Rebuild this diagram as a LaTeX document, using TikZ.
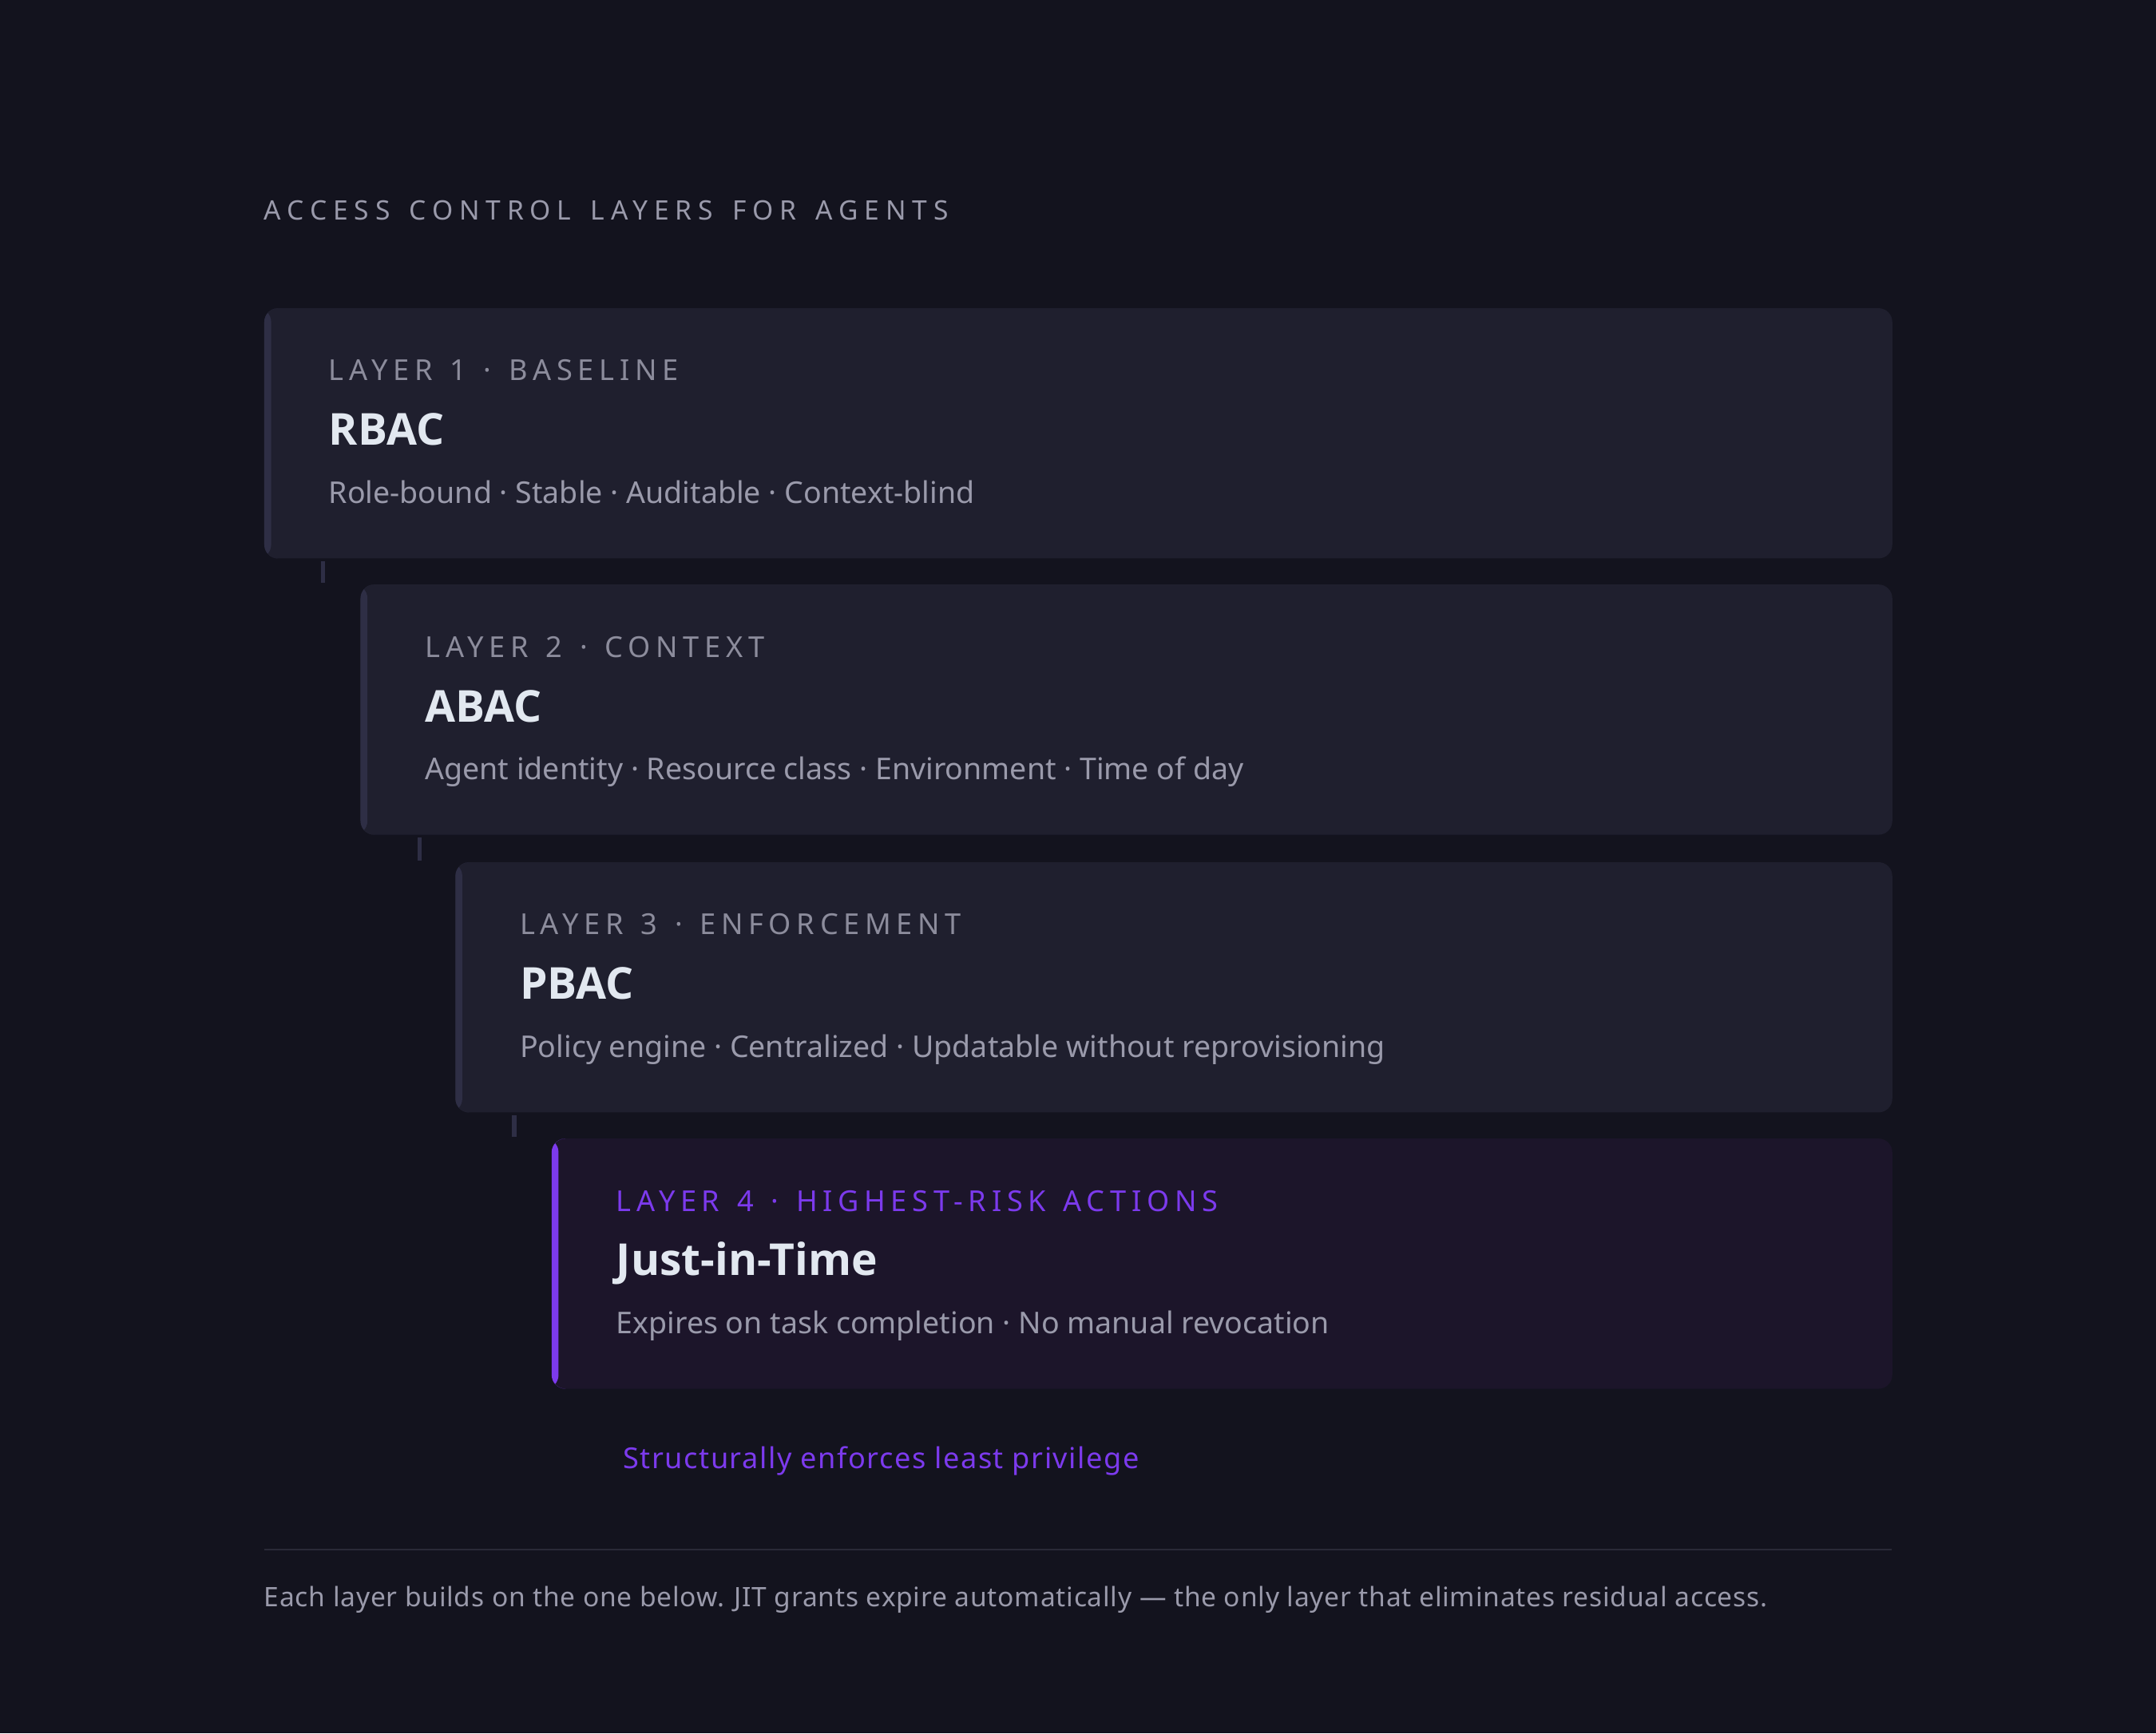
\documentclass[tikz,border=0pt]{standalone}
\usepackage{fontspec}
\setmainfont{Noto Sans}
\IfFontExistsTF{Noto Sans Bold}
  {\newfontfamily\headfont{Noto Sans Bold}}
  {\IfFontExistsTF{Open Sans Bold}
    {\newfontfamily\headfont{Open Sans Bold}}
    {\newfontfamily\headfont{Liberation Sans Bold}}}
\newfontfamily\capsfont[LetterSpace=18.5,WordSpace=1.35]{Noto Sans}
\newfontfamily\titlefont[LetterSpace=23.5,WordSpace=1.45]{Noto Sans}
\newfontfamily\notefont[LetterSpace=2.3]{Noto Sans}
\newfontfamily\accentfont[LetterSpace=4.2]{Noto Sans}
\usetikzlibrary{calc}
\definecolor{bg}{HTML}{13131E}
\definecolor{cardbg}{HTML}{1F1F2E}
\definecolor{jitbg}{HTML}{1C152A}
\definecolor{edge}{HTML}{2E2E45}
\definecolor{violet}{HTML}{7C3AED}
\definecolor{headtxt}{HTML}{E2E8F0}
\definecolor{softtxt}{HTML}{9A9AAB}
\definecolor{dimtxt}{HTML}{8C8C9C}
\definecolor{rule}{HTML}{2A2A38}
\tikzset{
  card/.style={rectangle, rounded corners=10pt, fill=cardbg, inner sep=0pt,
    anchor=north west, minimum height=182pt, minimum width=#1,
    path picture={\fill[edge] (path picture bounding box.north west)
      rectangle ([xshift=5pt]path picture bounding box.south west);}},
  hotcard/.style={card=#1, fill=jitbg,
    path picture={\fill[violet] (path picture bounding box.north west)
      rectangle ([xshift=5pt]path picture bounding box.south west);}},
  layerlbl/.style={anchor=base west, inner sep=0pt, text=dimtxt,
    font=\capsfont\fontsize{21}{25}\selectfont},
  heading/.style={anchor=base west, inner sep=0pt, text=headtxt,
    font=\headfont\fontsize{32}{36}\selectfont},
  desc/.style={anchor=base west, inner sep=0pt, text=softtxt,
    font=\fontsize{21.8}{26}\selectfont},
  link/.style={draw=edge, line width=3pt}
}

\begin{document}
\begin{tikzpicture}[x=1pt,y=-1pt]
  \fill[bg] (0,0) rectangle (1568,1261);
  \node[anchor=base west, inner sep=0pt, text=softtxt,
    font=\titlefont\fontsize{19.5}{23}\selectfont] (title) at (192,160)
    {ACCESS CONTROL LAYERS FOR AGENTS};

  % the four layers
  \node[card=1184pt] (rbac) at (192,224) {};
  \node[card=1114pt] (abac) at (262,425) {};
  \node[card=1045pt] (pbac) at (331,627) {};
  \node[hotcard=975pt] (jit) at (401,828) {};

  \node[layerlbl] at ([shift={(47pt,-53pt)}]rbac.north west) {LAYER 1 · BASELINE};
  \node[heading] at ([shift={(47pt,-100pt)}]rbac.north west) {RBAC};
  \node[desc] at ([shift={(47pt,-142pt)}]rbac.north west)
    {Role-bound · Stable · Auditable · Context-blind};

  \node[layerlbl] at ([shift={(47pt,-53pt)}]abac.north west) {LAYER 2 · CONTEXT};
  \node[heading] at ([shift={(47pt,-100pt)}]abac.north west) {ABAC};
  \node[desc] at ([shift={(47pt,-142pt)}]abac.north west)
    {Agent identity · Resource class · Environment · Time of day};

  \node[layerlbl] at ([shift={(47pt,-53pt)}]pbac.north west) {LAYER 3 · ENFORCEMENT};
  \node[heading] at ([shift={(47pt,-100pt)}]pbac.north west) {PBAC};
  \node[desc] at ([shift={(47pt,-142pt)}]pbac.north west)
    {Policy engine · Centralized · Updatable without reprovisioning};

  \node[layerlbl, text=violet] at ([shift={(47pt,-53pt)}]jit.north west)
    {LAYER 4 · HIGHEST-RISK ACTIONS};
  \node[heading] at ([shift={(47pt,-100pt)}]jit.north west) {Just-in-Time};
  \node[desc] at ([shift={(47pt,-142pt)}]jit.north west)
    {Expires on task completion · No manual revocation};

  % short links between layers
  \foreach \a/\b in {rbac/abac, abac/pbac, pbac/jit}
    \draw[link] ($(\a.south west)+(43,2)$) -- ($(\a.south west |- \b.north)+(43,-1)$);

  \node[anchor=base west, inner sep=0pt, text=violet,
    font=\accentfont\fontsize{21}{25}\selectfont] (least) at (453,1068)
    {Structurally enforces least privilege};

  \draw[rule, line width=1.2pt] (192,1127) -- (1376,1127);
  \node[anchor=base west, inner sep=0pt, text=softtxt,
    font=\notefont\fontsize{19.5}{23}\selectfont] (foot) at (192,1169)
    {Each layer builds on the one below. JIT grants expire automatically — the only layer that eliminates residual access.};
\end{tikzpicture}
\end{document}
